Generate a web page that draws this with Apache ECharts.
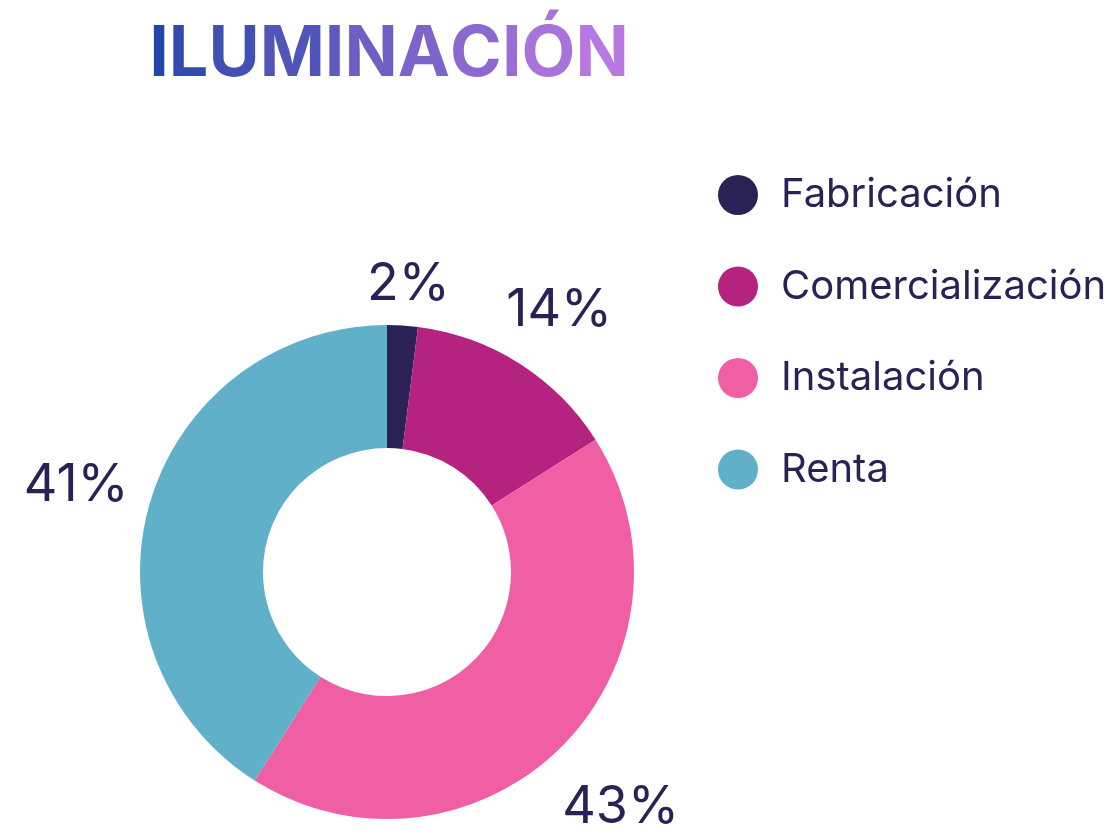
<!DOCTYPE html>
<html>
<head>
<meta charset="utf-8">
<script src="https://cdn.jsdelivr.net/npm/echarts@6/dist/echarts.min.js"></script>
<style>
  html, body { margin: 0; padding: 0; background: #fff; }
  #main { width: 1110px; height: 834px; }
</style>
</head>
<body>
<div id="main"></div>
<script>
var categories = ['Fabricación', 'Comercialización', 'Instalación', 'Renta'];
var values = [2, 14, 43, 41];
var colors = ['#2a2155', '#b3237f', '#f05fa3', '#5fb0c8'];
var titleText = 'ILUMINACIÓN';

var cx = 387, cy = 572, rOut = 247, rIn = 124;
var total = values.reduce(function (a, b) { return a + b; }, 0);

// mid angle of each slice, clockwise from 12 o'clock
function midAngle(i) {
	var before = 0;
	for (var k = 0; k < i; k++) before += values[k];
	return (before + values[i] / 2) / total * Math.PI * 2;
}

// title gradient done letter by letter (blue -> violet)
function mix(c1, c2, t) {
	var a = [1, 3, 5].map(function (i) { return parseInt(c1.substr(i, 2), 16); });
	var b = [1, 3, 5].map(function (i) { return parseInt(c2.substr(i, 2), 16); });
	return 'rgb(' + a.map(function (v, i) { return Math.round(v + (b[i] - v) * t); }).join(',') + ')';
}
var rich = {}, parts = [];
titleText.split('').forEach(function (ch, i) {
	var t = i / (titleText.length - 1);
	rich['c' + i] = {
		fontFamily: 'Inter',
		fontWeight: 'bold',
		fontSize: 70,
		color: mix('#2446a8', '#b878e2', t)
	};
	parts.push('{c' + i + '|' + ch + '}');
});

var myChart = echarts.init(document.getElementById('main'));
var option = {
	title: {
		text: parts.join(''),
		left: 384,
		top: 15,
		textAlign: 'center',
		textStyle: { rich: rich }
	},
	legend: {
		orient: 'vertical',
		left: 718,
		top: 175,
		padding: 0,
		icon: 'circle',
		itemWidth: 40,
		itemHeight: 40,
		itemGap: 51.5,
		data: categories,
		textStyle: {
			fontFamily: 'Inter',
			fontSize: 40,
			color: '#2a2155',
			padding: [0, 0, 0, 18]
		}
	},
	series: [{
		type: 'pie',
		center: [cx, cy],
		radius: [rIn, rOut],
		startAngle: 90,
		clockwise: true,
		silent: true,
		label: {
			show: true,
			position: 'outside',
			alignTo: 'none',
			overflow: 'none',
			formatter: '{d}%',
			fontFamily: 'Inter',
			fontSize: 52,
			color: '#2a2155'
		},
		labelLine: { show: false },
		labelLayout: function (p) {
			var a = midAngle(p.dataIndex);
			var w = p.labelRect.width, h = p.labelRect.height * 0.75;
			var proj = Math.abs(Math.sin(a)) * w / 2 + Math.abs(Math.cos(a)) * h / 2;
			var R = rOut + 24 + proj;
			return {
				x: cx + R * Math.sin(a) + 3,
				y: cy - R * Math.cos(a) + 5,
				align: 'center',
				verticalAlign: 'middle'
			};
		},
		data: categories.map(function (c, i) {
			return { name: c, value: values[i], itemStyle: { color: colors[i] } };
		})
	}]
};
myChart.setOption(option);
window.onresize = function () { myChart.resize(); };
</script>
</body>
</html>
